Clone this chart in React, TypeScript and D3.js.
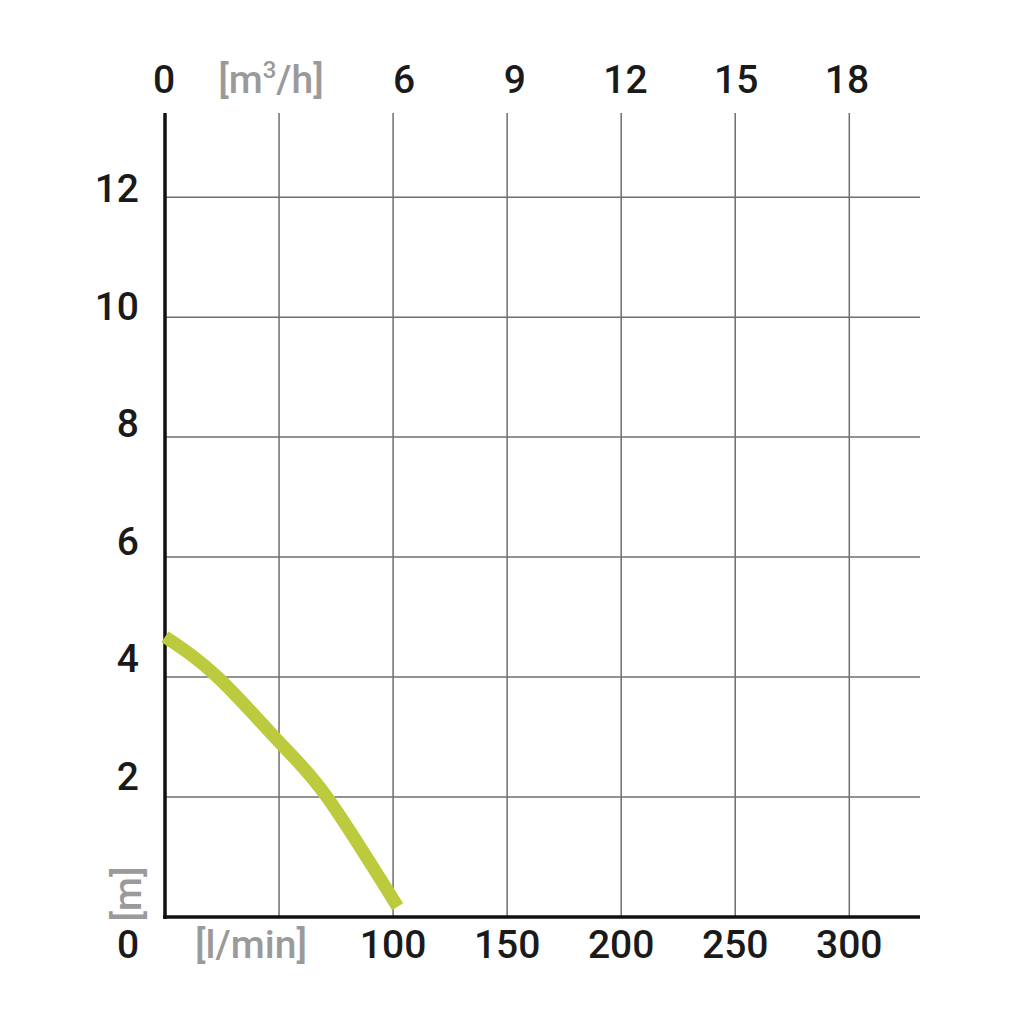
import React from "react";
import * as d3 from "d3";

const flowTicks = [100, 150, 200, 250, 300];
const gridX = [50, 100, 150, 200, 250, 300];
const gridY = [2, 4, 6, 8, 10, 12];
const m3hTicks = [6, 9, 12, 15, 18];
const headFlow = [0, 23, 50, 71, 102];
const headValues = [4.67, 4.0, 2.92, 2.0, 0.17];

const FONT = "Roboto, 'DejaVu Sans', sans-serif";

export default function App() {
  const x = d3.scaleLinear().domain([0, 331]).range([165, 920]);
  const y = d3.scaleLinear().domain([0, 13.37]).range([917, 115]);
  // label placement scales (labels sit slightly off the grid in the reference)
  const xTop = d3.scaleLinear().domain([6, 18]).range([404, 847]);
  const yLab = d3.scaleLinear().domain([2, 12]).range([790, 202]);
  const pts: [number, number][] = headFlow.map((f, i) => [f, headValues[i]]);
  const line = d3
    .line<[number, number]>()
    .x((d) => x(d[0]))
    .y((d) => y(d[1]))
    .curve(d3.curveNatural);

  return (
    <svg
      width={1024}
      height={1024}
      style={{ position: "absolute", left: 0, top: 0, background: "#fff" }}
    >
      <rect width={1024} height={1024} fill="#fff" />
      {gridX.map((v) => (
        <line key={"gx" + v} x1={x(v)} x2={x(v)} y1={113} y2={917} stroke="#6e6e6e" strokeWidth={1.5} />
      ))}
      {gridY.map((v) => (
        <line key={"gy" + v} x1={165} x2={920} y1={y(v)} y2={y(v)} stroke="#6e6e6e" strokeWidth={1.5} />
      ))}
      <line x1={165} x2={165} y1={113} y2={919} stroke="#111" strokeWidth={3.5} />
      <line x1={163} x2={920} y1={917} y2={917} stroke="#111" strokeWidth={3.5} />
      <path d={line(pts) || ""} fill="none" stroke="#bccb3d" strokeWidth={13} strokeLinecap="butt" />

      <g fontFamily={FONT} fontSize={39} fontWeight={500} fill="#1a1a1a" textAnchor="middle">
        <text x={164} y={93}>0</text>
        {m3hTicks.map((t) => (
          <text key={"t" + t} x={xTop(t)} y={93}>{t}</text>
        ))}
        <text x={128} y={958}>0</text>
        {flowTicks.map((v) => (
          <text key={"b" + v} x={x(v)} y={958}>{v}</text>
        ))}
        {gridY.map((v) => (
          <text key={"l" + v} x={139} y={yLab(v)} textAnchor="end">{v}</text>
        ))}
      </g>
      <g fontFamily={FONT} fontSize={39} fontWeight={500} fill="#9a9a9a">
        <text x={271} y={93} textAnchor="middle">
          [m<tspan fontSize={24} dy={-15}>3</tspan><tspan dy={15}>/h]</tspan>
        </text>
        <text x={251} y={958} textAnchor="middle">[l/min]</text>
        <text x={0} y={0} textAnchor="middle" transform="translate(141,894) rotate(-90)">[m]</text>
      </g>
    </svg>
  );
}
